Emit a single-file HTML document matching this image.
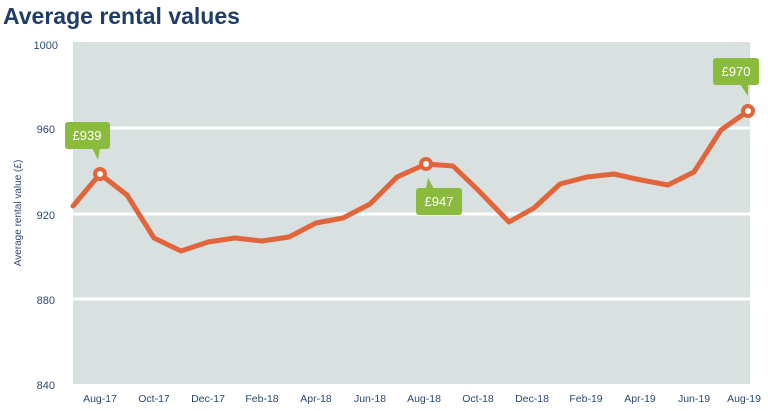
<!DOCTYPE html>
<html><head><style>
body{margin:0;background:#fff;}
svg{display:block;font-family:"Liberation Sans",sans-serif;}
</style></head><body>
<svg width="768" height="411" viewBox="0 0 768 411">
<text x="3" y="24" font-size="23" font-weight="bold" fill="#1f3d66">Average rental values</text>
<rect x="73" y="42" width="677" height="342" fill="#d8e0e0"/>
<g stroke="#fff" stroke-width="3">
<line x1="73" y1="128" x2="750" y2="128"/>
<line x1="73" y1="214" x2="750" y2="214"/>
<line x1="73" y1="299" x2="750" y2="299"/>
</g>
<g font-size="11" fill="#2c4a70" text-anchor="end">
<text x="58" y="49">1000</text>
<text x="55" y="133">960</text>
<text x="55" y="219">920</text>
<text x="55" y="304">880</text>
<text x="55" y="389">840</text>
</g>
<text transform="translate(21,213) rotate(-90)" font-size="10" fill="#2c4a70" text-anchor="middle">Average rental value (£)</text>
<g font-size="10.5" fill="#2c4a70" text-anchor="middle">
<text x="100" y="402">Aug-17</text><text x="154" y="402">Oct-17</text><text x="208" y="402">Dec-17</text>
<text x="262" y="402">Feb-18</text><text x="316" y="402">Apr-18</text><text x="370" y="402">Jun-18</text>
<text x="424" y="402">Aug-18</text><text x="478" y="402">Oct-18</text><text x="532" y="402">Dec-18</text>
<text x="586" y="402">Feb-19</text><text x="640" y="402">Apr-19</text><text x="694" y="402">Jun-19</text>
<text x="744" y="402">Aug-19</text>
</g>
<polyline fill="none" stroke="#e2643a" stroke-width="5" stroke-linejoin="round" stroke-linecap="round"
points="73,206 100,174 127,195 154,238 181,251 208,242 235,238 262,241 289,237 316,223 343,218 370,204 397,177 426,164 453,166 478,190 509,222 534,208 560,184 587,177 614,174 641,180 668,185 694,172 721,130 748,111"/>
<g fill="#fff" stroke="#e2643a" stroke-width="4">
<circle cx="100" cy="174" r="5"/><circle cx="426" cy="164" r="5"/><circle cx="748" cy="111" r="5"/>
</g>
<g fill="#8bbb3c">
<rect x="65" y="122" width="45" height="27" rx="3"/><polygon points="92,148 100,148 98,160"/>
<rect x="416" y="188" width="46" height="27" rx="3"/><polygon points="426,189 434,189 428,178"/>
<rect x="713" y="58" width="46" height="27" rx="3"/><polygon points="740,84 748,84 748,96"/>
</g>
<g font-size="13" fill="#fff" text-anchor="middle">
<text x="87" y="140">£939</text><text x="439" y="206">£947</text><text x="736" y="76">£970</text>
</g>
</svg>
</body></html>
